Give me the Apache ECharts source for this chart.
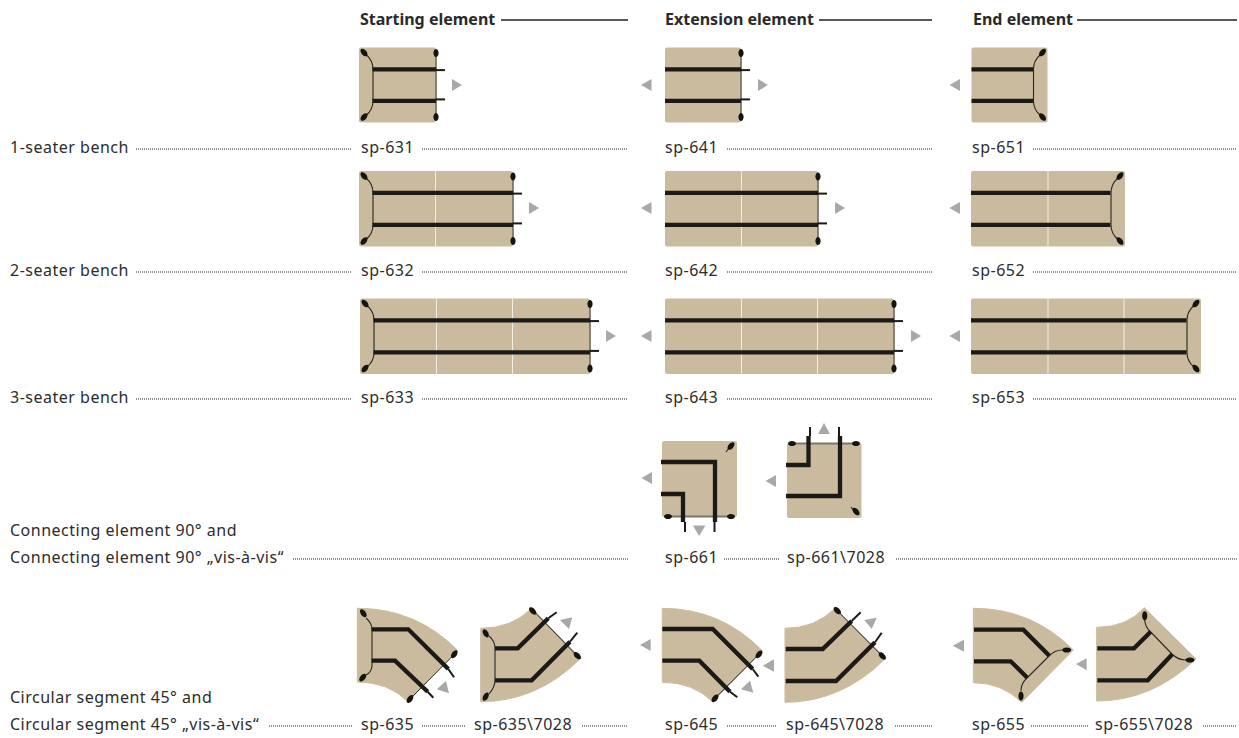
<!DOCTYPE html>
<html><head><meta charset="utf-8">
<style>html,body{margin:0;padding:0;background:#fff}#c{width:1239px;height:738px}
#c text{letter-spacing:.5px}#c text[style*="bold"]{letter-spacing:0}</style>
<script src="https://cdn.jsdelivr.net/npm/echarts@6/dist/echarts.min.js"></script>
</head><body><div id="c"></div>
<script>
const BODY='#cbbb9e', INK='#2c2c2c', RAIL='#1b1a16', TRI='#a8a8a8';
const headers=[['Starting element',360,19],['Extension element',665,19],['End element',973,19]];
const headerRules=[[[501,20],[628,20]],[[819,20],[932,20]],[[1077,20],[1237,20]]];
const rowLabels=[['1-seater bench',10,147],['2-seater bench',10,270],['3-seater bench',10,397],
 ['Connecting element 90° and',10,530],['Connecting element 90° „vis-à-vis“',10,557],
 ['Circular segment 45° and',10,697],['Circular segment 45° „vis-à-vis“',10,724]];
const codes=[['sp-631',361,147],['sp-641',665,147],['sp-651',972,147],
 ['sp-632',361,270],['sp-642',665,270],['sp-652',972,270],
 ['sp-633',361,397],['sp-643',665,397],['sp-653',972,397],
 ['sp-661',665,557],['sp-661\\7028',787,557],
 ['sp-635',361,724],['sp-635\\7028',474,724],['sp-645',665,724],['sp-645\\7028',786,724],['sp-655',972,724],['sp-655\\7028',1095,724]];
const leaders=[[136,352,149],[422,628,149],[727,932,149],[1033,1237,149],
 [136,352,272],[422,628,272],[727,932,272],[1033,1237,272],
 [136,352,399],[422,628,399],[727,932,399],[1033,1237,399],
 [293,628,559],[724,779,559],[896,1237,559],
 [269,353,726],[422,466,726],[582,628,726],[727,776,726],[895,932,726],[1031,1088,726],[1203,1237,726]];
// kind, left, right, top, bottom, seat dividers
const straight=[['start',359,436,47.5,122.5,[]],['extension',665,741,47.5,122.5,[]],['end',971.5,1047.5,47.5,122.5,[]],
 ['start',359,513,171,246.5,[435.5]],['extension',665,818,171,246.5,[741.5]],['end',971,1125,171,246.5,[1048]],
 ['start',360,590,298.5,374,[436.5,512.5]],['extension',665,894,298.5,374,[741.5,817.5]],['end',971,1201,298.5,374,[1048,1124]]];
const squares=[[662,441,737,517],[787,443,861.5,518]];
const segments=[
 'M357.3 608.3 Q415.6 608.3 457.3 650 L408 701.7 Q388.3 682 357.3 682 Z',
 'M480.7 628.3 Q511.7 628.3 531.7 608.3 L580.7 658.3 Q537.3 701.7 480.7 701.7 Z',
 'M662.3 608.3 Q720.6 608.3 762.3 650.7 L712.7 701.7 Q693 682.3 662.3 682.3 Z',
 'M785 628.3 Q815 628.3 835 608.3 L885.7 658.3 Q841.7 702.3 785 702.3 Z',
 'M973.3 608.3 Q1031.6 608.3 1073.3 650 L1021.7 702.3 Q1002 682.7 973.3 682.7 Z',
 'M1096.7 627.3 Q1126.7 627.3 1144.3 607.7 L1196 659 Q1152 701 1096.7 701 Z'];
const heavyRails=[
 [[661,462],[715,462],[715,522]],[[661,494],[683,494],[683,522]],
 [[786,465],[808.5,465],[808.5,436]],[[786,496],[840,496],[840,436]],
 [[371.7,629.3],[408.3,629.3],[448.3,669]],[[371.7,660.7],[395,660.7],[427.7,691.7]],
 [[495,648.3],[517.7,648.3],[548.3,618.3]],[[495,680.3],[531.7,680.3],[570,641.7]],
 [[662.3,629],[712.7,629],[752.7,669]],[[662.3,660.7],[699.3,660.7],[730,691.7]],
 [[785.7,649],[822.7,649],[851.7,621]],[[785.7,681],[836,681],[875,642.3]],
 [[974,629.7],[1023.3,629.7],[1049.3,655.7]],[[974,661.3],[1010.7,661.3],[1027.3,677.7]],
 [[1097.3,648.3],[1134,648.3],[1150.7,631.7]],[[1097.3,680.3],[1147.7,680.3],[1172.3,654.3]]];
const railEnds=[
 [[714.5,522],[714.5,532]],[[685,522],[685,532]],[[810,436],[810,427]],[[839,436],[839,427]],
 [[448.3,669],[454,677.3]],[[427.7,691.7],[433.3,697.7]],[[548.3,618.3],[556.7,612.3]],[[570,641.7],[577.3,632.7]],
 [[752.7,669],[758.3,676.7]],[[730,691.7],[737.3,697.3]],[[851.7,621],[860.7,612.3]],[[875,642.3],[881.7,632.7]]];
const cutLines=[[[454.3,654.3],[410,699]],[[532.7,610],[577.3,656]],[[759,654.3],[715,698.3]],[[837.3,610.7],[882.3,656]]];
const edgeLines=[[[665,516.5],[732,516.5]],[[790,443.5],[857,443.5]]];
const cables=[
 'M366 618 Q372 623 372 630 L372 665 Q372 672 366 675',
 'M489 636 Q495 641 495 648 L495 680 Q495 687 489 694',
 'M1062 650 Q1055 650 1049 656 L1027 678 Q1021 683 1021 691',
 'M1144.7 620 Q1145 627 1150.7 632 L1172 654 Q1178 660 1186 660',
 'M726 452 L729 448','M851 507 L854 511'];
// x, y, half length, rotation in degrees
const feet=[[668,516.5,4,0],[731,516.5,4,0],[731,446,4.5,-50],[792,443.5,4,0],[856,443.5,4,0],[856,511.5,4.5,50],
 [363.3,613.3,4.5,55],[362.7,677.7,4.5,-50],[454.3,654.3,4.5,-55],[410,699,4.5,-55],
 [485.7,633.3,4.5,60],[485.7,696.7,4.5,-60],[532.7,611,4.5,45],[577.3,655.7,4.5,45],
 [759,654.3,4.5,-50],[715,698.3,4.5,-50],[837.3,610.7,4.5,45],[882.3,656,4.5,45],
 [1066.7,650,4.5,0],[1021,696,4.5,90],[1144.7,615.7,4.5,90],[1190,660,4.5,0]];
const triRight=[[452,85],[758,85],[529,208],[835,208],[606,336],[911,336]];
const triLeft=[[651.5,85],[960,85],[651.5,208],[960,208],[651.5,336],[960,336],[652,478],[776,481]];
const triFree=[
 [[693,525.5],[705.5,525.5],[699,536]],[[824,423],[818,434],[830,434]],
 [[446,681],[449,693.3],[436.7,689.3]],[[560,620],[572.3,617.3],[569,629]],
 [[640,645],[650.7,639],[650.7,651]],[[762.7,665.7],[774,659.3],[774,671.7]],
 [[750,680.7],[753.3,692.7],[741,689.3]],[[864.3,620],[876.7,617.7],[871.7,629]],
 [[952.7,645.7],[964,639.7],[964,651.7]],[[1076,664],[1086.7,658.3],[1086.7,670.3]]];

// expand the straight benches into marks
const rects=squares.slice(), dividers=[], railsS=[], endsS=[], frames=[], cablesAll=cables.slice(), feetAll=feet.slice();
straight.forEach(([k,l,r,t,b,d])=>{
  rects.push([l,t,r,b]);
  d.forEach(x=>dividers.push([[x,t],[x,b]]));
  const a=t+21.8,c=b-21.6;
  const x0=k==='start'?l+13.5:l, x1=k==='end'?r-14.5:r;
  railsS.push([[x0,a],[x1,a]],[[x0,c],[x1,c]]);
  if(k!=='end'){
    endsS.push([[r,a+.8],[r+9,a+.8]],[[r,c-1.5],[r+9,c-1.5]]);
    frames.push([[r,t+6],[r,b-6]]);
    feetAll.push([r,t+5.5,4,90],[r,b-5.5,4,90]);
  }
  if(k==='start'){
    cablesAll.push(`M${l+7} ${t+7} Q${l+14} ${t+13} ${l+14} ${a} L${l+14} ${c} Q${l+14} ${b-13} ${l+7} ${b-7}`);
    feetAll.push([l+5,t+5,4.5,50],[l+5,b-5.5,4.5,-50]);
  }
  if(k==='end'){
    cablesAll.push(`M${r-7} ${t+7} Q${r-14} ${t+13} ${r-14} ${a} L${r-14} ${c} Q${r-14} ${b-13} ${r-7} ${b-7}`);
    feetAll.push([r-5,t+5,4.5,-50],[r-5,b-5.5,4.5,50]);
  }
});
const triangles=triFree
 .concat(triRight.map(([x,y])=>[[x,y-6],[x+10,y],[x,y+6]]))
 .concat(triLeft.map(([x,y])=>[[x,y-6],[x-10.5,y],[x,y+6]]));

const idx=a=>a.map((_,i)=>[i]);
const series=(list,render)=>({type:'custom',silent:true,clip:false,animation:false,coordinateSystem:'cartesian2d',
  encode:{x:-1,y:-1},data:idx(list),renderItem:(p,api)=>render(list[p.dataIndex],api)});
const lines=(list,color,width,dash)=>series(list,(pts,api)=>({type:'polyline',
  shape:{points:pts.map(q=>api.coord(q))},style:{stroke:color,lineWidth:width,fill:null,lineJoin:'miter',lineDash:dash||null,lineCap:'butt'}}));
const mapPath=(d,api)=>d.replace(/(-?[\d.]+) (-?[\d.]+)/g,(_,x,y)=>api.coord([+x,+y]).join(' '));
const paths=(list,style)=>series(list,(d,api)=>({type:'path',shape:{pathData:mapPath(d,api)},style}));
const labels=(list,font,color)=>series(list,([t,x,y],api)=>{const q=api.coord([x,y]);
  return {type:'text',x:q[0],y:q[1],style:{text:t,font,fill:color,align:'left',verticalAlign:'middle'}};});

const chart=echarts.init(document.getElementById('c'),null,{renderer:'svg'});
chart.setOption({
  animation:false,backgroundColor:'#fff',
  grid:{left:0,right:0,top:0,bottom:0},
  xAxis:{type:'value',min:0,max:1239,show:false},
  yAxis:{type:'value',min:0,max:738,inverse:true,show:false},
  series:[
    series(rects,([a,b,c,d],api)=>{const p=api.coord([a,b]),q=api.coord([c,d]);
      return {type:'rect',shape:{x:p[0],y:p[1],width:q[0]-p[0],height:q[1]-p[1],r:2},style:{fill:BODY}};}),
    paths(segments,{fill:BODY,lineJoin:'round',stroke:BODY,lineWidth:1}),
    lines(dividers,'#f3eee2',1),
    lines(frames.concat(edgeLines),'#7d7668',1.8),
    lines(cutLines,'#2a2822',1),
    paths(cablesAll,{fill:null,stroke:'#2a2822',lineWidth:1.1}),
    lines(railsS.concat(heavyRails),RAIL,4.3),
    lines(endsS.concat(railEnds),RAIL,2),
    series(feetAll,([x,y,len,deg],api)=>{const q=api.coord([x,y]);
      return {type:'ellipse',x:q[0],y:q[1],rotation:-deg*Math.PI/180,shape:{cx:0,cy:0,rx:len,ry:2.6},style:{fill:'#15140f'}};}),
    series(triangles,(pts,api)=>({type:'polygon',shape:{points:pts.map(q=>api.coord(q))},style:{fill:TRI}})),
    lines(headerRules,'#222',1.6),
    lines(leaders.map(([a,b,y])=>[[a,y],[b,y]]),'#222',1,[1,1]),
    labels(headers,'bold 16px "Noto Sans"','#2a2a2a'),
    labels(rowLabels,'16px "Noto Sans"',INK),
    labels(codes,'16px "Noto Sans"',INK)
  ]
});
</script></body></html>
